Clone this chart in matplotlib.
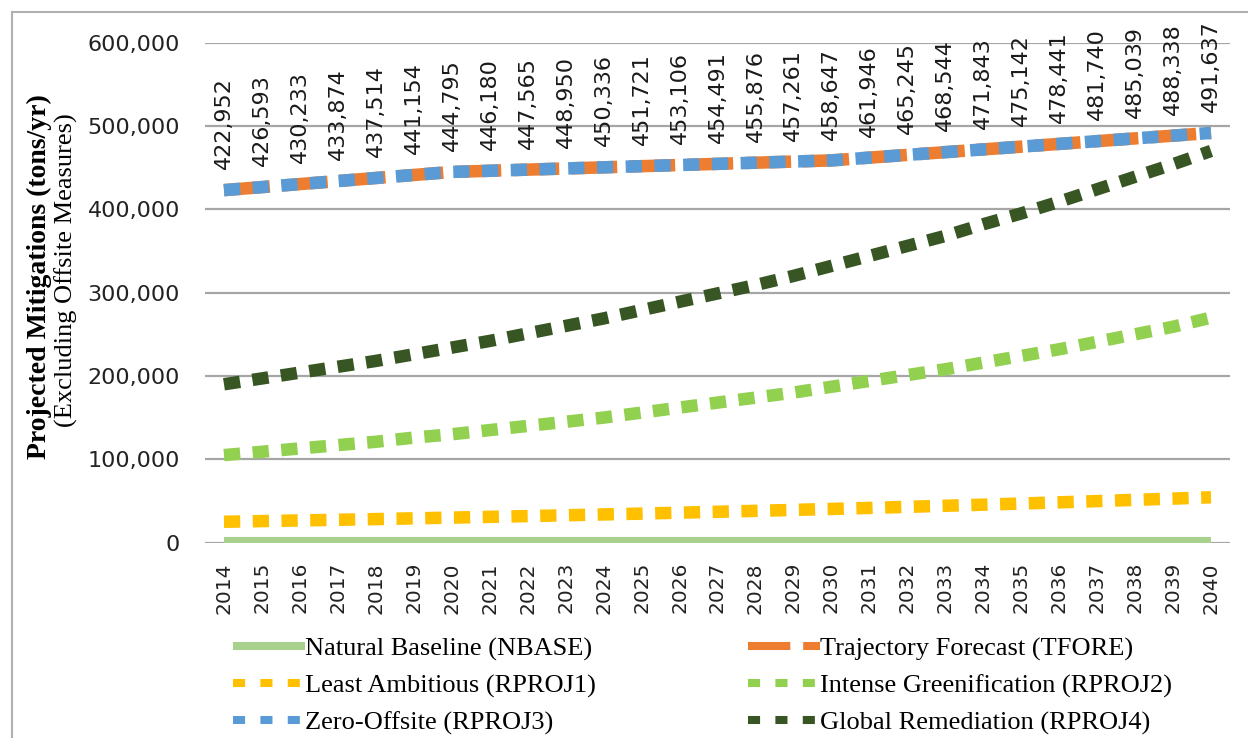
import numpy as np
import matplotlib
matplotlib.use('Agg')
import matplotlib.pyplot as plt
from matplotlib.lines import Line2D
from matplotlib.ticker import FuncFormatter

years = [str(y) for y in range(2014, 2041)]

natural_baseline = [2500, 2500, 2500, 2500, 2500, 2500, 2500, 2500, 2500,
                    2500, 2500, 2500, 2500, 2500, 2500, 2500, 2500, 2500,
                    2500, 2500, 2500, 2500, 2500, 2500, 2500, 2500, 2500]
zero_offsite = [422952, 426593, 430233, 433874, 437514, 441154, 444795, 446180,
                447565, 448950, 450336, 451721, 453106, 454491, 455876, 457261,
                458647, 461946, 465245, 468544, 471843, 475142, 478441, 481740,
                485039, 488338, 491637]
trajectory_forecast = zero_offsite
least_ambitious = [25000, 25800, 26600, 27400, 28200, 29100, 30000, 30900, 31800,
                   32800, 33800, 34800, 35900, 37000, 38100, 39200, 40400, 41600,
                   42900, 44200, 45500, 46900, 48300, 49800, 51300, 52800, 54400]
intense_greenification = [105000, 109000, 113000, 117000, 121000, 126000, 130000,
                          135000, 140000, 145000, 150000, 156000, 162000, 168000,
                          174000, 180000, 187000, 194000, 201000, 208000, 216000,
                          224000, 232000, 241000, 250000, 259000, 270000]
global_remediation = [190000, 197000, 204000, 211000, 218000, 226000, 234000,
                      242000, 251000, 260000, 269000, 279000, 289000, 299000,
                      309000, 320000, 332000, 344000, 356000, 368000, 382000,
                      395000, 409000, 424000, 439000, 454000, 470000]

names = ['Natural Baseline (NBASE)', 'Trajectory Forecast (TFORE)',
         'Least Ambitious (RPROJ1)', 'Intense Greenification (RPROJ2)',
         'Zero-Offsite (RPROJ3)', 'Global Remediation (RPROJ4)']
colors = ['#A9D18E', '#ED7D31', '#FFC000', '#92D050', '#5B9BD5', '#375623']

W, H = 1248, 738
fig = plt.figure(figsize=(W / 100, H / 100), dpi=100)
ax = fig.add_axes([205 / W, 1 - 542.6 / H, (1230 - 205) / W, 500 / H])

x = np.arange(len(years))
lw = 9
dot = (1.3, 1.0)
ax.plot(x, natural_baseline, color=colors[0], lw=5.8, solid_capstyle='butt', zorder=3)
ax.plot(x, trajectory_forecast, color=colors[1], lw=lw, dashes=(3.68, 0.96),
        dash_capstyle='butt', zorder=3)
ax.plot(x, least_ambitious, color=colors[2], lw=lw, dashes=dot, dash_capstyle='butt', zorder=3)
ax.plot(x, intense_greenification, color=colors[3], lw=lw, dashes=dot,
        dash_capstyle='butt', zorder=3)
ax.plot(x, zero_offsite, color=colors[4], lw=lw, dashes=dot, dash_capstyle='butt', zorder=3)
ax.plot(x, global_remediation, color=colors[5], lw=lw, dashes=dot,
        dash_capstyle='butt', zorder=3)

# value labels above the zero-offsite line
for i, v in enumerate(zero_offsite):
    ax.annotate(f'{v:,}', (i, v), xytext=(0, 15), textcoords='offset points',
                rotation=90, ha='center', va='bottom', fontsize=16,
                family='DejaVu Sans', color='#1a1a1a')

ax.set_xlim(-0.5, len(years) - 0.5)
ax.set_ylim(0, 600000)
ax.set_yticks(range(0, 600001, 100000))
ax.yaxis.set_major_formatter(FuncFormatter(lambda v, p: f'{int(v):,}'))
ax.set_xticks(x)
ax.set_xticklabels(years, rotation=90, fontsize=14.5, family='DejaVu Sans', color='#222222')
for t in ax.get_yticklabels():
    t.set_fontsize(16)
    t.set_family('DejaVu Sans')
    t.set_color('#222222')
ax.tick_params(axis='y', length=0, pad=18)
ax.tick_params(axis='x', length=0, pad=14)
ax.yaxis.grid(True, color='#a6a6a6', lw=1.6)
ax.set_axisbelow(True)
for s in ax.spines.values():
    s.set_visible(False)

fig.text(39 / W, 1 - 277 / H, 'Projected Mitigations (tons/yr)', rotation=90,
         ha='center', va='center', fontsize=20, fontweight='bold', family='Liberation Serif')
fig.text(66 / W, 1 - 270 / H, '(Excluding Offsite Measures)', rotation=90,
         ha='center', va='center', fontsize=19, family='Liberation Serif')

# legend, filled column by column
hl = 5.8
handles = [
    Line2D([], [], color=colors[0], lw=hl, solid_capstyle='butt'),
    Line2D([], [], color=colors[2], lw=hl, dashes=(1.5, 1.9), dash_capstyle='butt'),
    Line2D([], [], color=colors[4], lw=hl, dashes=(1.5, 1.9), dash_capstyle='butt'),
    Line2D([], [], color=colors[1], lw=hl, dashes=(5.25, 1.6), dash_capstyle='butt'),
    Line2D([], [], color=colors[3], lw=hl, dashes=(1.5, 1.9), dash_capstyle='butt'),
    Line2D([], [], color=colors[5], lw=hl, dashes=(1.5, 1.9), dash_capstyle='butt'),
]
labels = [names[0], names[2], names[4], names[1], names[3], names[5]]
fig.legend(handles, labels, ncol=2, loc='upper left', bbox_to_anchor=(233 / W, 1 - 637 / H),
           frameon=False, borderpad=0, borderaxespad=0, handletextpad=0,
           handlelength=2.73, columnspacing=5.75, labelspacing=0.5,
           prop={'family': 'Liberation Serif', 'size': 19})

# chart area border
fig.add_artist(Line2D([12 / W, 12 / W], [0, 1 - 12 / H], transform=fig.transFigure,
                      color='#b0b0b0', lw=1.5))
fig.add_artist(Line2D([12 / W, 1], [1 - 12 / H, 1 - 12 / H], transform=fig.transFigure,
                      color='#b0b0b0', lw=1.5))

fig.savefig('out.png', dpi=100)
